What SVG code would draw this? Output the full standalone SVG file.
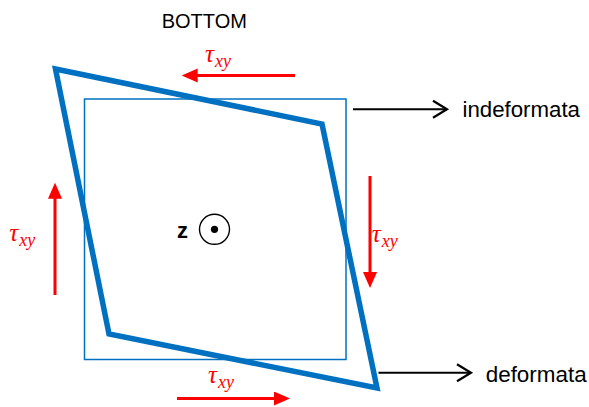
<svg xmlns="http://www.w3.org/2000/svg" width="589" height="407" viewBox="0 0 589 407">
<style>
.lbl{font-family:"Liberation Sans",Arial,sans-serif;fill:#000}
.tau{font-family:"Liberation Serif","DejaVu Serif",serif;font-style:italic;fill:#FF0000;font-size:25px}
.sub{font-size:18px}
.red{stroke:#FF0000;stroke-width:3;fill:none}
.blk{stroke:#000;stroke-width:2;fill:none}
.blue{stroke:#0070C0;fill:none}
</style>
<defs>
<marker id="rh" markerUnits="userSpaceOnUse" markerWidth="18" markerHeight="16" refX="2" refY="7" orient="auto">
<path d="M0,0 L16,7 L0,14 z" fill="#FF0000"/>
</marker>
<marker id="bh" markerUnits="userSpaceOnUse" markerWidth="20" markerHeight="22" refX="16" refY="10" orient="auto">
<path d="M2,1.5 L16,10 L2,18.5" fill="none" stroke="#000" stroke-width="2.2"/>
</marker>
</defs>
<rect width="589" height="407" fill="#fff"/>
<text class="lbl" x="161.7" y="28.3" font-size="20">BOTTOM</text>
<g id="undeformed">
<rect class="blue" x="84.5" y="99" width="261.5" height="260.5" stroke-width="1.5"/>
</g>
<g id="deformed">
<polygon class="blue" points="55.5,69 322,124 377,388 109,334" stroke-width="5.5" stroke-linejoin="miter"/>
</g>
<g id="zaxis">
<text class="lbl" x="177" y="237.5" font-size="22" font-weight="bold">z</text>
<circle cx="214.5" cy="229.3" r="15" fill="none" stroke="#000" stroke-width="1.4"/>
<circle cx="214.5" cy="229.3" r="3.6" fill="#000"/>
</g>
<g id="connectors">
<line class="red" x1="295" y1="75.5" x2="195.7" y2="75.5" marker-end="url(#rh)"/>
<line class="red" x1="55" y1="295" x2="55" y2="196.7" marker-end="url(#rh)"/>
<line class="red" x1="370" y1="176" x2="370" y2="274" marker-end="url(#rh)"/>
<line class="red" x1="177" y1="398.5" x2="276" y2="398.5" marker-end="url(#rh)"/>
<line class="blk" x1="353" y1="109.3" x2="447" y2="109.3" marker-end="url(#bh)"/>
<line class="blk" x1="378.5" y1="372.7" x2="471" y2="372.7" marker-end="url(#bh)"/>
</g>
<g id="tau-top"><text class="tau" x="205" y="62.3">τ<tspan class="sub" dx="1" dy="5">xy</tspan></text></g>
<g id="tau-left"><text class="tau" x="9.3" y="241">τ<tspan class="sub" dx="1" dy="5">xy</tspan></text></g>
<g id="tau-right"><text class="tau" x="371.7" y="241.7">τ<tspan class="sub" dx="1" dy="5">xy</tspan></text></g>
<g id="tau-bottom"><text class="tau" x="208" y="383">τ<tspan class="sub" dx="1" dy="5">xy</tspan></text></g>
<g id="label-indeformata"><text class="lbl" x="462.5" y="116.7" font-size="22" textLength="117.5" lengthAdjust="spacingAndGlyphs">indeformata</text></g>
<g id="label-deformata"><text class="lbl" x="485.7" y="381.7" font-size="22" textLength="101" lengthAdjust="spacingAndGlyphs">deformata</text></g>
</svg>
